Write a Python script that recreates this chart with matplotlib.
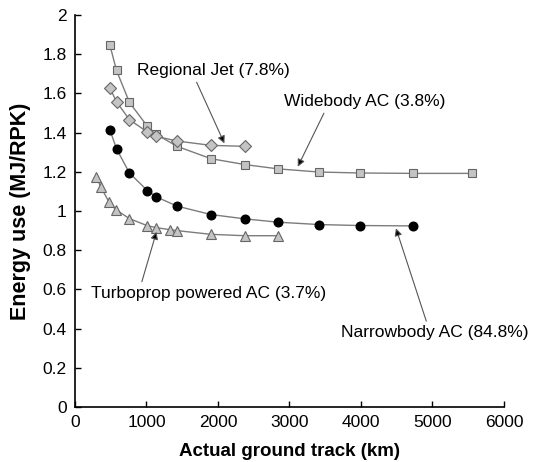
import matplotlib
matplotlib.use("Agg")
import matplotlib.pyplot as plt

plt.rcParams["font.family"] = ["Liberation Sans", "DejaVu Sans"]

# data (km, MJ/RPK)
wide_x = [488, 581, 762, 1013, 1139, 1427, 1902, 2376, 2841, 3409, 3981, 4734, 5550]
wide_y = [1.847, 1.717, 1.554, 1.432, 1.391, 1.330, 1.267, 1.237, 1.215, 1.199, 1.194, 1.192, 1.192]

rj_x = [488, 581, 762, 1013, 1139, 1427, 1902, 2376]
rj_y = [1.628, 1.557, 1.466, 1.403, 1.381, 1.357, 1.335, 1.330]

nb_x = [488, 581, 762, 1013, 1139, 1427, 1902, 2376, 2841, 3409, 3981, 4734]
nb_y = [1.415, 1.317, 1.194, 1.104, 1.072, 1.025, 0.982, 0.960, 0.943, 0.931, 0.926, 0.924]

tp_x = [301, 357, 479, 572, 762, 1013, 1139, 1325, 1427, 1902, 2376, 2841]
tp_y = [1.176, 1.125, 1.044, 1.007, 0.961, 0.925, 0.915, 0.905, 0.900, 0.881, 0.874, 0.874]

x_ticks = [0, 1000, 2000, 3000, 4000, 5000, 6000]
y_ticks = [0, 0.2, 0.4, 0.6, 0.8, 1.0, 1.2, 1.4, 1.6, 1.8, 2.0]
y_labels = ["0", "0.2", "0.4", "0.6", "0.8", "1", "1.2", "1.4", "1.6", "1.8", "2"]

LINE = "#7c7c7c"
FILL = "#c4c4c4"
EDGE = "#666666"

fig = plt.figure(figsize=(5.34, 4.62), dpi=100, facecolor="white")
ax = fig.add_axes([0.1404, 0.119, 0.8034, 0.8485])

ax.plot(wide_x, wide_y, color=LINE, lw=1, marker="s", ms=5.8, mfc=FILL, mec=EDGE, mew=0.8, zorder=3)
ax.plot(rj_x, rj_y, color=LINE, lw=1, marker="D", ms=6, mfc=FILL, mec=EDGE, mew=0.8, zorder=3)
ax.plot(nb_x, nb_y, color=LINE, lw=1, marker="o", ms=6.2, mfc="black", mec="black", zorder=3)
ax.plot(tp_x, tp_y, color=LINE, lw=1, marker="^", ms=7, mfc=FILL, mec=EDGE, mew=0.8, zorder=3)

arrow = dict(arrowstyle="-|>", fc="black", ec="#555555", lw=0.8, mutation_scale=11,
             shrinkA=1, shrinkB=0)
ax.annotate("Regional Jet (7.8%)", xy=(2090, 1.345), xytext=(1932, 1.716),
            ha="center", va="center", fontsize=12.5, arrowprops=dict(arrow, relpos=(0.38, 0.0)))
ax.annotate("Widebody AC (3.8%)", xy=(3116, 1.226), xytext=(4051, 1.558),
            ha="center", va="center", fontsize=12.5, arrowprops=dict(arrow, relpos=(0.26, 0.0)))
ax.annotate("Turboprop powered AC (3.7%)", xy=(1140, 0.894), xytext=(1872, 0.580),
            ha="center", va="center", fontsize=12.5, arrowprops=dict(arrow, relpos=(0.21, 1.0)))
ax.annotate("Narrowbody AC (84.8%)", xy=(4489, 0.912), xytext=(5037, 0.379),
            ha="center", va="center", fontsize=12.5, arrowprops=dict(arrow, relpos=(0.46, 1.0)))

ax.set_xlim(0, 6000)
ax.set_ylim(0, 2)
ax.set_xticks(x_ticks)
ax.set_yticks(y_ticks)
ax.set_yticklabels(y_labels)
ax.tick_params(direction="in", length=4, width=1, labelsize=12.5, colors="black", pad=6)
ax.spines[["top", "right"]].set_visible(False)
for sp in ax.spines.values():
    sp.set_linewidth(1.2)
ax.set_xlabel("Actual ground track (km)", fontsize=13.5, fontweight="bold", labelpad=9)
ax.set_ylabel("Energy use (MJ/RPK)", fontsize=15.5, fontweight="bold", labelpad=8)

fig.savefig("out.png", dpi=100, facecolor="white")
